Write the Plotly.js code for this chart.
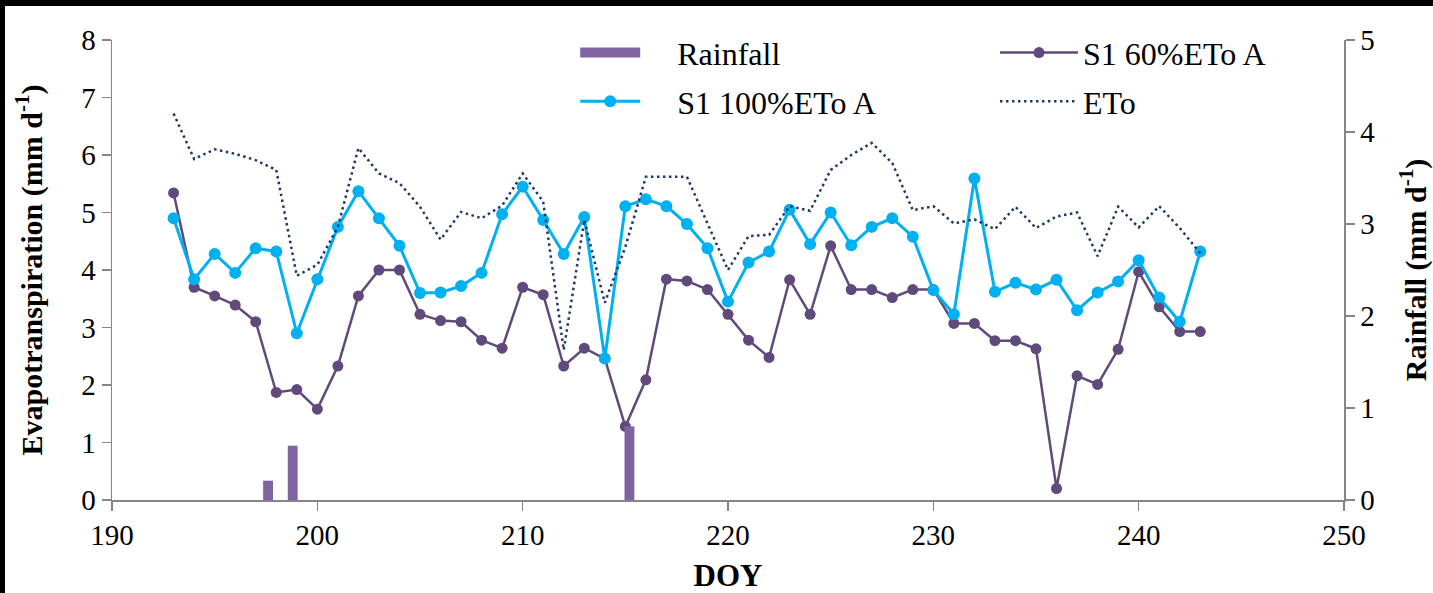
<!DOCTYPE html>
<html><head><meta charset="utf-8">
<script src="https://cdn.plot.ly/plotly-3.0.1.min.js"></script>
<style>html,body{margin:0;padding:0;background:#000;width:1433px;height:593px;overflow:hidden}
#chart{position:absolute;left:5px;top:6px;width:1428px;height:587px;background:#fff}</style>
</head><body><div id="chart"></div><script>
const doy=[193,194,195,196,197,198,199,200,201,202,203,204,205,206,207,208,209,210,211,212,213,214,215,216,217,218,219,220,221,222,223,224,225,226,227,228,229,230,231,232,233,234,235,236,237,238,239,240,241,242,243];
const s60=[5.34,3.70,3.55,3.39,3.10,1.87,1.92,1.58,2.33,3.55,4.00,4.00,3.23,3.12,3.10,2.78,2.64,3.70,3.57,2.33,2.64,2.46,1.28,2.09,3.84,3.81,3.66,3.23,2.78,2.48,3.83,3.23,4.42,3.66,3.66,3.52,3.66,3.66,3.07,3.07,2.77,2.77,2.63,0.20,2.16,2.01,2.62,3.97,3.36,2.93,2.93];
const s100=[4.90,3.84,4.28,3.95,4.38,4.32,2.90,3.84,4.75,5.37,4.90,4.42,3.60,3.61,3.72,3.95,4.97,5.45,4.87,4.28,4.92,2.46,5.11,5.23,5.11,4.80,4.38,3.45,4.13,4.32,5.05,4.45,5.00,4.43,4.75,4.90,4.58,3.65,3.23,5.59,3.62,3.78,3.66,3.83,3.30,3.61,3.80,4.17,3.52,3.10,4.32];
const eto=[6.72,5.93,6.10,6.02,5.91,5.74,3.90,4.09,4.75,6.12,5.68,5.51,5.10,4.53,5.01,4.90,5.12,5.68,5.19,2.61,4.87,3.43,4.40,5.62,5.62,5.62,4.81,4.00,4.59,4.61,5.11,5.03,5.74,6.00,6.21,5.86,5.04,5.11,4.81,4.88,4.71,5.10,4.73,4.93,5.00,4.24,5.10,4.74,5.11,4.73,4.29];
const rainDoy=[197.6,198.8,215.2];
const rainfall=[0.21,0.59,0.80];
const names={rain:'Rainfall',s60:'S1 60%ETo A',s100:'S1 100%ETo A',eto:'ETo'};
const xTitle='<b>DOY</b>';
const yTitle='<b>Evapotranspiration (mm d<sup>-1</sup>)</b>';
const y2Title='<b>Rainfall (mm d<sup>-1</sup>)</b>';

const FONT='Liberation Serif, Times New Roman, serif';
const AX='#868686';
const PAD='\u00a0\u00a0\u00a0\u00a0';
const traces=[
 {type:'bar',x:rainDoy,y:rainfall,yaxis:'y2',width:0.48,marker:{color:'#8064A2'},showlegend:false,name:names.rain,hoverinfo:'skip'},
 {type:'scatter',x:[null],y:[null],yaxis:'y2',mode:'lines',line:{color:'#8064A2',width:13},name:PAD+names.rain,legend:'legend',legendgroup:'a'},
 {type:'scatter',x:doy,y:s60,mode:'lines+markers',line:{color:'#604A7B',width:2.5},marker:{size:11,color:'#604A7B'},name:names.s60,legend:'legend2',legendgroup:'b'},
 {type:'scatter',x:doy,y:s100,mode:'lines+markers',line:{color:'#00B0F0',width:3},marker:{size:12,color:'#00B0F0'},name:PAD+names.s100,legend:'legend',legendgroup:'c'},
 {type:'scatter',x:doy,y:eto,mode:'lines',line:{color:'#1F3864',width:2.5,dash:'2.5px,3.5px'},name:names.eto,legend:'legend2',legendgroup:'d'}
];
const axBase={showgrid:false,zeroline:false,showline:true,linecolor:AX,linewidth:1.5,ticks:'outside',ticklen:9,tickcolor:AX,tickwidth:1.5,tickfont:{size:29,family:FONT,color:'#000'}};
const layout={
 width:1428,height:587,margin:{l:107,r:89,t:34,b:93},
 paper_bgcolor:'#fff',plot_bgcolor:'#fff',
 font:{family:FONT,size:29,color:'#000'},
 showlegend:true,
 xaxis:Object.assign({},axBase,{range:[190,250],tick0:190,dtick:10,title:{text:xTitle,font:{size:31,family:FONT}}}),
 yaxis:Object.assign({},axBase,{range:[0,8],dtick:1,title:{text:yTitle,font:{size:30,family:FONT}}}),
 yaxis2:Object.assign({},axBase,{overlaying:'y',side:'right',range:[0,5],dtick:1,title:{text:y2Title,font:{size:30,family:FONT}}}),
 legend:{x:0.376,xanchor:'left',y:1.032,yanchor:'top',bgcolor:'rgba(0,0,0,0)',font:{size:32,family:FONT,color:'#000'},itemwidth:60,tracegroupgap:4},
 legend2:{x:0.7167,xanchor:'left',y:1.032,yanchor:'top',bgcolor:'rgba(0,0,0,0)',font:{size:32,family:FONT,color:'#000'},itemwidth:78,tracegroupgap:4}
};
Plotly.newPlot('chart',traces,layout,{displayModeBar:false,staticPlot:true});
</script></body></html>
